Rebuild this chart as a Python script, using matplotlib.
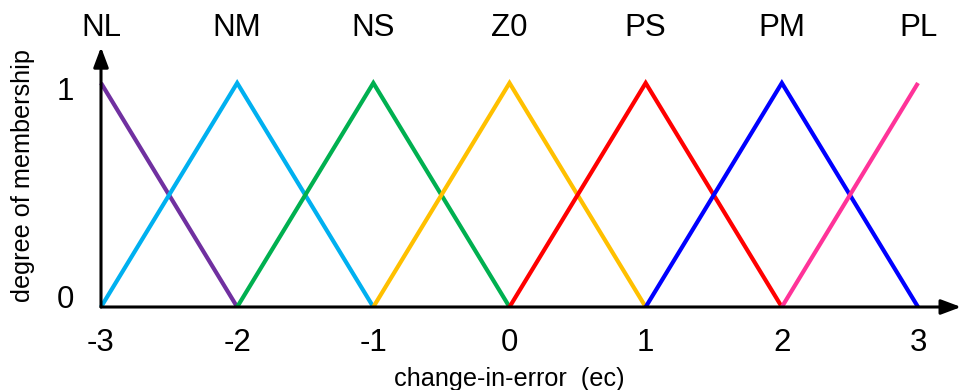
import matplotlib
matplotlib.use("Agg")
import matplotlib.pyplot as plt

plt.rcParams['font.family'] = ['Liberation Sans', 'DejaVu Sans']

labels = ["NL", "NM", "NS", "Z0", "PS", "PM", "PL"]
centers = [-3, -2, -1, 0, 1, 2, 3]
colors = ["#7030A0", "#00B0F0", "#00B050", "#FFC000", "#FF0000", "#0000FF", "#FF3399"]
xticks = [-3, -2, -1, 0, 1, 2, 3]
yticks = [0, 1]
xlabel = "change-in-error  (ec)"
ylabel = "degree of membership"

W, H = 961, 390
fig = plt.figure(figsize=(W / 100, H / 100), dpi=100)
ax = fig.add_axes([0, 0, 1, 1])
px = 136.17
x0px, y0px, y1px = 101, 83, 307
ax.set_xlim(-3 - x0px / px, -3 + (W - x0px) / px)
ax.set_ylim(-y0px / (y1px - y0px), (H - y0px) / (y1px - y0px))
ax.axis('off')

FS = 22.5
for lab, c, col in zip(labels, centers, colors):
    xs = [max(c - 1, -3), c, min(c + 1, 3)]
    ys = [0 if xs[0] < c else 1, 1, 0 if xs[2] > c else 1]
    ax.plot(xs, ys, color=col, lw=3, solid_capstyle='butt', solid_joinstyle='miter', zorder=3)
    ax.text(c, 1.245, lab, ha='center', va='center', fontsize=FS)

# axes with arrows
ax.annotate("", xy=(3.316, 0), xytext=(-3, 0),
            arrowprops=dict(arrowstyle='-|>,head_length=1.2,head_width=0.45', color='black', lw=2.2,
                            shrinkA=0, shrinkB=0), zorder=4)
ax.annotate("", xy=(-3, 1.16), xytext=(-3, 0),
            arrowprops=dict(arrowstyle='-|>,head_length=1.2,head_width=0.45', color='black', lw=2.2,
                            shrinkA=0, shrinkB=0), zorder=4)

for t in xticks:
    ax.text(t, -0.16, f"{t}", ha='center', va='center', fontsize=FS)
ax.text(-3.26, 0.96, str(yticks[1]), ha='center', va='center', fontsize=FS)
ax.text(-3.26, 0.03, str(yticks[0]), ha='center', va='center', fontsize=FS)

ax.text(0.0, -0.32, xlabel, ha='center', va='center', fontsize=18.2)
ax.text(-3.57, 0.585, ylabel, ha='center', va='center', rotation=90, fontsize=18.2)

fig.savefig("out.png", dpi=100)
